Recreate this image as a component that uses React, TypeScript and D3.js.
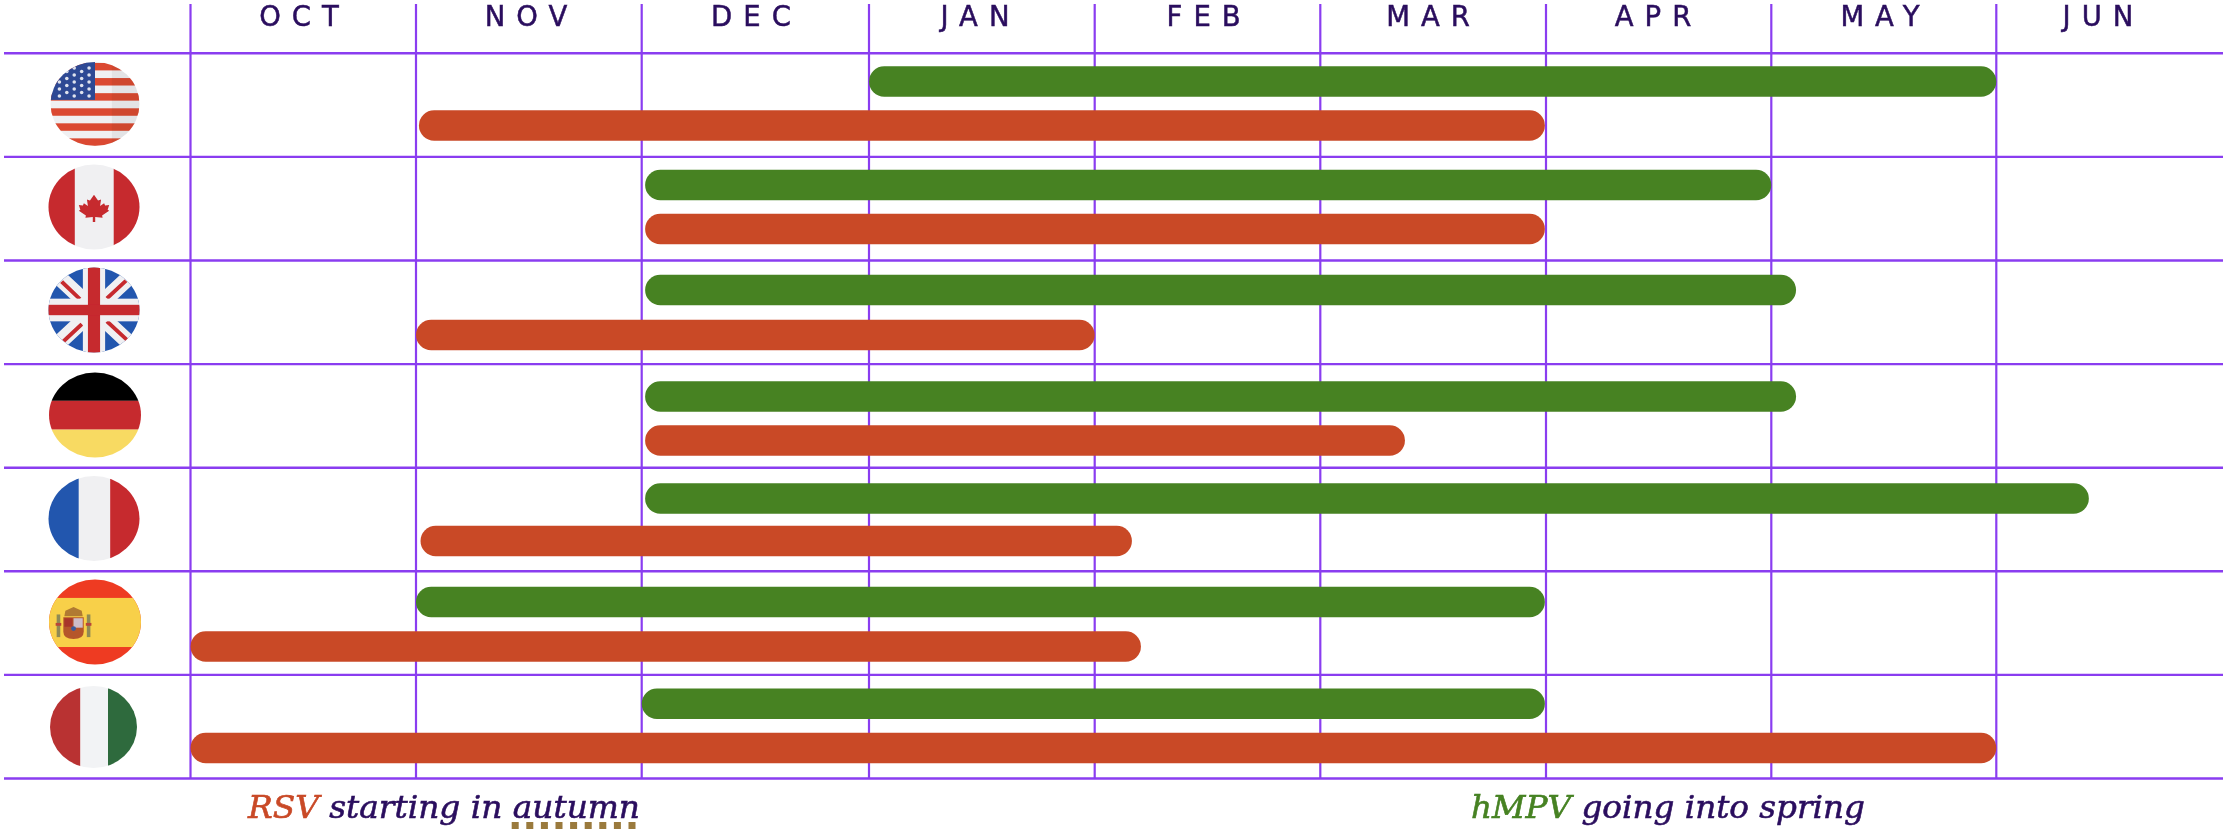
import React from "react";
import * as d3 from "d3";

const W = 2223, H = 830;
const months = ["OCT", "NOV", "DEC", "JAN", "FEB", "MAR", "APR", "MAY", "JUN"];
const countries = ["USA", "Canada", "UK", "Germany", "France", "Spain", "Italy"];
// season spans in months since the start of October
const hmpvStart = [3.0, 2.015, 2.015, 2.015, 2.015, 1.0, 2.0];
const hmpvEnd = [8.0, 7.0, 7.11, 7.11, 8.41, 5.995, 5.995];
const rsvStart = [1.013, 2.015, 1.0, 2.015, 1.02, 0, 0];
const rsvEnd = [5.995, 5.995, 4.0, 5.375, 4.165, 4.205, 8.0];

const monthIndex = [0, 1, 2, 3, 4, 5, 6, 7, 8, 9];
const x = d3.scaleLinear().domain(monthIndex).range([190.5, 416, 641.7, 869, 1094.7, 1320.3, 1546, 1771.3, 1996.3, 2222]);
const y = d3.scaleBand().domain(countries).range([53.3, 778.5]);

const GRID = "#8a3cf0", INK = "#2b0f5e", GREEN = "#468223", RED = "#c94a28";
const BAR_H = 30.5;
const BLUE = "#2356ae", FRED = "#c6292f", WHITE = "#f0f0f2";

const labelCenters = [299, 526, 751, 975, 1203.6, 1428, 1653, 1880, 2098];
const LABEL_SPACING = 11;

function Usa() {
  const stripes = [-40, -23.8, -7.6, 8.6, 24.7, 40.8];
  const stars: [number, number][] = [];
  for (let r = 0; r < 9; r++) for (let c = 0; c < 5; c++) if ((r + c) % 2 === 0) stars.push([-36 + c * 7.5, -38.6 + r * 3.75]);
  return (
    <g>
      <rect x={-46} y={-46} width={92} height={92} fill={WHITE} />
      {stripes.map((s, i) => <rect key={i} x={-46} y={s - 4} width={92} height={8} fill="#db4a30" />)}
      <rect x={-46} y={-46} width={46} height={41.6} fill="#2f4a94" />
      {stars.map((s, i) => <circle key={i} cx={s[0]} cy={s[1]} r={1.8} fill="#dfe3ee" />)}
      <rect x={17} y={-46} width={30} height={92} fill="#000" opacity={0.05} />
    </g>
  );
}
function Canada() {
  return (
    <g>
      <rect x={-46} y={-46} width={92} height={92} fill={WHITE} />
      <rect x={-46} y={-46} width={27} height={92} fill={FRED} />
      <rect x={19.5} y={-46} width={27} height={92} fill={FRED} />
      <path fill={FRED} d="M0,-13 L4,-7 L7,-8 L6,-1 L10,-4 L11,-1.5 L15,-2 L13.5,3 L15,4 L8,9 L8.5,11.5 L1.2,10.5 L1.2,16 L-1.2,16 L-1.2,10.5 L-8.5,11.5 L-8,9 L-15,4 L-13.5,3 L-15,-2 L-11,-1.5 L-10,-4 L-6,-1 L-7,-8 L-4,-7 Z" />
    </g>
  );
}
function Uk() {
  return (
    <g>
      <rect x={-46} y={-46} width={92} height={92} fill={BLUE} />
      <path d="M-46,-46 L46,46 M46,-46 L-46,46" stroke={WHITE} strokeWidth={16} />
      <path d="M-32,-30 L-14,-11.6 M31.6,-31 L12.8,-12.4 M-30,33 L-12,15 M12.8,12 L33,32" stroke={FRED} strokeWidth={4} />
      <rect x={-11} y={-46} width={22} height={92} fill={WHITE} />
      <rect x={-46} y={-12} width={92} height={24} fill={WHITE} />
      <rect x={-6} y={-46} width={12} height={92} fill={FRED} />
      <rect x={-46} y={-5.5} width={92} height={11} fill={FRED} />
    </g>
  );
}
function Germany() {
  return (
    <g>
      <rect x={-46} y={-46} width={92} height={31} fill="#000" />
      <rect x={-46} y={-15} width={92} height={30.5} fill={FRED} />
      <rect x={-46} y={15.5} width={92} height={31} fill="#f8da62" />
    </g>
  );
}
function France() {
  return (
    <g>
      <rect x={-46} y={-46} width={31} height={92} fill={BLUE} />
      <rect x={-15} y={-46} width={31} height={92} fill={WHITE} />
      <rect x={16} y={-46} width={31} height={92} fill={FRED} />
    </g>
  );
}
function Spain() {
  return (
    <g>
      <rect x={-47} y={-46} width={94} height={92} fill="#ee3a22" />
      <rect x={-47} y={-25.5} width={94} height={52} fill="#f8d048" />
      <g transform="translate(-21,0)">
        <path d="M-10,-5 H10 V10 Q10,18 0,18 Q-10,18 -10,10 Z" fill="#b5562c" />
        <rect x={0} y={-4} width={9} height={10} fill="#cdbdc8" />
        <rect x={-9} y={-4} width={8} height={9} fill="#a8352c" />
        <circle cx={0} cy={7} r={2.4} fill="#3a5a9a" />
        <path d="M-9,-6 L-8,-12 L0,-16 L8,-12 L9,-6 Z" fill="#b07a30" />
        <rect x={-16.5} y={-8} width={3.5} height={24} fill="#8f8a55" />
        <rect x={13} y={-8} width={3.5} height={24} fill="#8f8a55" />
        <rect x={-17.5} y={1} width={5.5} height={3} fill="#b8443a" />
        <rect x={12} y={1} width={5.5} height={3} fill="#b8443a" />
      </g>
    </g>
  );
}
function Italy() {
  return (
    <g>
      <rect x={-46} y={-46} width={32.5} height={92} fill="#b93233" />
      <rect x={-13.5} y={-46} width={28.5} height={92} fill="#f2f3f5" />
      <rect x={15} y={-46} width={32} height={92} fill="#2f6b3e" />
    </g>
  );
}

const flagArt = [Usa, Canada, Uk, Germany, France, Spain, Italy];
const flagCx = [95, 94, 94, 95, 94, 95, 93.5];
const flagCy = [104, 207, 310, 415, 518.5, 622, 727];
const flagRx = [44.5, 45.5, 45.5, 46, 45.5, 46, 43.5];
const flagRy = [42, 42.5, 42.5, 42.5, 42.5, 42.5, 41];

const hmpvY = [81.5, 185, 290, 396.5, 498.5, 602, 703.7];
const rsvY = [125.5, 229, 335, 440.5, 541, 646.5, 748];

function Bar({ a, b, cy, fill }: { a: number; b: number; cy: number; fill: string }) {
  return <rect x={x(a)} y={cy - BAR_H / 2} width={x(b) - x(a)} height={BAR_H} rx={BAR_H / 2} fill={fill} />;
}

export default function App() {
  const ticks = d3.range(0, 9);
  const hLines = d3.range(0, countries.length + 1).map(i => 53.3 + i * y.step());
  return (
    <svg width={W} height={H} viewBox={`0 0 ${W} ${H}`} style={{ position: "absolute", left: 0, top: 0, background: "#fff" }}>
      <defs>
        <clipPath id="c45"><circle r={45} /></clipPath>
        <filter id="soft" x="0" y="0" width="100%" height="100%" filterUnits="userSpaceOnUse" primitiveUnits="userSpaceOnUse">
          <feGaussianBlur stdDeviation={0.5} />
        </filter>
      </defs>
      <g filter="url(#soft)">
        <rect x={0} y={0} width={W} height={H} fill="#fff" />
        {hLines.map((v, i) => <line key={i} x1={4} x2={W} y1={v} y2={v} stroke={GRID} strokeWidth={2.4} />)}
        {ticks.map(t => <line key={t} x1={x(t)} x2={x(t)} y1={4} y2={778.5} stroke={GRID} strokeWidth={2.2} />)}
        {months.map((m, i) => (
          <text key={m} x={labelCenters[i] + LABEL_SPACING / 2} y={25.5} textAnchor="middle" fontFamily="'DejaVu Sans'" fontSize={27.5} letterSpacing={LABEL_SPACING} fill={INK} stroke={INK} strokeWidth={0.5}>{m}</text>
        ))}
        {countries.map((c, i) => (
          <g key={c}>
            <Bar a={hmpvStart[i]} b={hmpvEnd[i]} cy={hmpvY[i]} fill={GREEN} />
            <Bar a={rsvStart[i]} b={rsvEnd[i]} cy={rsvY[i]} fill={RED} />
          </g>
        ))}
        {countries.map((c, i) => {
          const Art = flagArt[i];
          return (
            <g key={c} transform={`translate(${flagCx[i]},${flagCy[i]}) scale(${flagRx[i] / 45},${flagRy[i] / 45})`}>
              <g clipPath="url(#c45)"><Art /></g>
            </g>
          );
        })}
        <text x={248} y={818} fontFamily="'DejaVu Serif'" fontStyle="italic" fontSize={32} fill={INK} stroke={INK} strokeWidth={0.6} textLength={392} lengthAdjust="spacingAndGlyphs">
          <tspan fill={RED} stroke={RED}>RSV</tspan> starting in autumn
        </text>
        <line x1={511.7} x2={636} y1={825.5} y2={825.5} stroke="#9a7a3e" strokeWidth={7} strokeDasharray="7 7.6" />
        <text x={1471} y={818} fontFamily="'DejaVu Serif'" fontStyle="italic" fontSize={32} fill={INK} stroke={INK} strokeWidth={0.6} textLength={394} lengthAdjust="spacingAndGlyphs">
          <tspan fill={GREEN} stroke={GREEN}>hMPV</tspan> going into spring
        </text>
      </g>
    </svg>
  );
}
